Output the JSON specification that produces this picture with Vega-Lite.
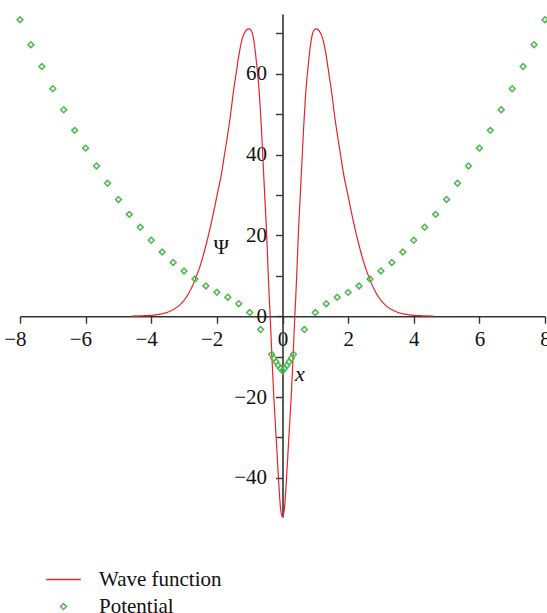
{
  "$schema": "https://vega.github.io/schema/vega-lite/v6.json",
  "autosize": {"type": "none"},
  "width": 525,
  "height": 503,
  "padding": {"left": 20, "top": 14, "right": 2, "bottom": 96},
  "background": "white",
  "config": {
    "view": {"stroke": null},
    "axis": {
      "grid": false,
      "zindex": 1,
      "domainColor": "#333333",
      "domainWidth": 1.6,
      "tickColor": "#333333",
      "tickWidth": 1.4,
      "tickSize": 7,
      "labelFont": "Liberation Serif",
      "labelFontSize": 21,
      "labelColor": "#111111",
      "labelOverlap": false,
      "labelFlush": false,
      "title": null
    },
    "legend": {
      "orient": "none",
      "legendX": 25,
      "legendY": 547,
      "padding": 0,
      "labelFont": "Liberation Serif",
      "labelFontSize": 21,
      "labelColor": "#111111",
      "labelOffset": 17,
      "rowPadding": 5,
      "symbolStrokeWidth": 1.5
    }
  },
  "datasets": {
    "wave": [
      {"x": -4.6, "psi": 0}, {"x": -4.2, "psi": 0.12}, {"x": -3.87, "psi": 0.33}, {"x": -3.5, "psi": 0.97}, {"x": -3.16, "psi": 2.55},
      {"x": -3.0, "psi": 3.9}, {"x": -2.86, "psi": 5.6}, {"x": -2.65, "psi": 9.3}, {"x": -2.5, "psi": 12.7},
      {"x": -2.35, "psi": 17.0}, {"x": -2.2, "psi": 22.0}, {"x": -2.0, "psi": 29.7}, {"x": -1.84, "psi": 36.2},
      {"x": -1.77, "psi": 39.9}, {"x": -1.68, "psi": 44.5}, {"x": -1.585, "psi": 49.8}, {"x": -1.5, "psi": 55.3},
      {"x": -1.4, "psi": 60.8}, {"x": -1.33, "psi": 64.6}, {"x": -1.23, "psi": 68.6}, {"x": -1.12, "psi": 70.6},
      {"x": -1.03, "psi": 71.1}, {"x": -0.96, "psi": 70.8}, {"x": -0.89, "psi": 69.0}, {"x": -0.79, "psi": 62.6},
      {"x": -0.7, "psi": 54.4}, {"x": -0.64, "psi": 46.1}, {"x": -0.59, "psi": 37.8}, {"x": -0.54, "psi": 29.6},
      {"x": -0.488, "psi": 21.3}, {"x": -0.448, "psi": 13.1}, {"x": -0.405, "psi": 4.8}, {"x": -0.375, "psi": 0},
      {"x": -0.326, "psi": -9.5}, {"x": -0.265, "psi": -20.0}, {"x": -0.19, "psi": -30.5}, {"x": -0.12, "psi": -40.5},
      {"x": -0.06, "psi": -47.5}, {"x": 0, "psi": -49.7},
      {"x": 0.06, "psi": -47.5}, {"x": 0.12, "psi": -40.5}, {"x": 0.19, "psi": -30.5}, {"x": 0.265, "psi": -20.0},
      {"x": 0.326, "psi": -9.5}, {"x": 0.375, "psi": 0}, {"x": 0.405, "psi": 4.8}, {"x": 0.448, "psi": 13.1},
      {"x": 0.488, "psi": 21.3}, {"x": 0.54, "psi": 29.6}, {"x": 0.59, "psi": 37.8}, {"x": 0.64, "psi": 46.1},
      {"x": 0.7, "psi": 54.4}, {"x": 0.79, "psi": 62.6}, {"x": 0.89, "psi": 69.0}, {"x": 0.96, "psi": 70.8},
      {"x": 1.03, "psi": 71.1}, {"x": 1.12, "psi": 70.6}, {"x": 1.23, "psi": 68.6}, {"x": 1.33, "psi": 64.6},
      {"x": 1.4, "psi": 60.8}, {"x": 1.5, "psi": 55.3}, {"x": 1.585, "psi": 49.8}, {"x": 1.68, "psi": 44.5},
      {"x": 1.77, "psi": 39.9}, {"x": 1.84, "psi": 36.2}, {"x": 2.0, "psi": 29.7}, {"x": 2.2, "psi": 22.0},
      {"x": 2.35, "psi": 17.0}, {"x": 2.5, "psi": 12.7}, {"x": 2.65, "psi": 9.3}, {"x": 2.86, "psi": 5.6},
      {"x": 3.0, "psi": 3.9}, {"x": 3.16, "psi": 2.55}, {"x": 3.5, "psi": 0.97}, {"x": 3.87, "psi": 0.33},
      {"x": 4.2, "psi": 0.12}, {"x": 4.6, "psi": 0}
    ],
    "potential": [
      {"x": -8, "v": 73.4}, {"x": -7.667, "v": 67.2}, {"x": -7.333, "v": 61.8}, {"x": -7, "v": 56.3},
      {"x": -6.667, "v": 51.1}, {"x": -6.333, "v": 46.0}, {"x": -6, "v": 41.6}, {"x": -5.667, "v": 37.2},
      {"x": -5.333, "v": 32.9}, {"x": -5, "v": 28.9}, {"x": -4.667, "v": 25.2}, {"x": -4.333, "v": 22.0},
      {"x": -4, "v": 18.8}, {"x": -3.667, "v": 15.9}, {"x": -3.333, "v": 13.3}, {"x": -3, "v": 11.2},
      {"x": -2.667, "v": 9.2}, {"x": -2.333, "v": 7.5}, {"x": -2, "v": 5.9}, {"x": -1.667, "v": 4.7},
      {"x": -1.333, "v": 3.1}, {"x": -1, "v": 0.9}, {"x": -0.667, "v": -3.3}, {"x": -0.333, "v": -9.4},
      {"x": -0.27, "v": -10.4}, {"x": -0.2, "v": -11.3}, {"x": -0.13, "v": -12.2}, {"x": -0.065, "v": -12.9},
      {"x": 0, "v": -13.5},
      {"x": 0.065, "v": -12.9}, {"x": 0.13, "v": -12.2}, {"x": 0.2, "v": -11.3}, {"x": 0.27, "v": -10.4},
      {"x": 0.333, "v": -9.4},
      {"x": 0.667, "v": -3.3}, {"x": 1, "v": 0.9}, {"x": 1.333, "v": 3.1}, {"x": 1.667, "v": 4.7},
      {"x": 2, "v": 5.9}, {"x": 2.333, "v": 7.5}, {"x": 2.667, "v": 9.2}, {"x": 3, "v": 11.2},
      {"x": 3.333, "v": 13.3}, {"x": 3.667, "v": 15.9}, {"x": 4, "v": 18.8}, {"x": 4.333, "v": 22.0},
      {"x": 4.667, "v": 25.2}, {"x": 5, "v": 28.9}, {"x": 5.333, "v": 32.9}, {"x": 5.667, "v": 37.2},
      {"x": 6, "v": 41.6}, {"x": 6.333, "v": 46.0}, {"x": 6.667, "v": 51.1}, {"x": 7, "v": 56.3},
      {"x": 7.333, "v": 61.8}, {"x": 7.667, "v": 67.2}, {"x": 8, "v": 73.4}
    ],
    "labels": [
      {"x": -1.87, "y": 16.9, "t": "Ψ"}
    ],
    "xlabel": [
      {"x": 0.53, "y": -14.3, "t": "x"}
    ]
  },
  "layer": [
    {
      "data": {"name": "wave"},
      "transform": [{"calculate": "'Wave function'", "as": "series"}],
      "mark": {"type": "line", "interpolate": "monotone", "strokeWidth": 1.2},
      "encoding": {
        "x": {
          "field": "x", "type": "quantitative",
          "scale": {"domain": [-8, 8], "nice": false, "zero": false},
          "axis": {
            "orient": "bottom",
            "offset": -200.8,
            "values": [-8, -7, -6, -5, -4, -3, -2, -1, 0, 1, 2, 3, 4, 5, 6, 7, 8],
            "labelExpr": "datum.value % 2 === 0 ? datum.label : ''",
            "labelPadding": 5,
            "labelAlign": {"condition": {"test": "datum.value < 0", "value": "right"}, "value": "center"},
            "labelOffset": {"condition": {"test": "datum.value < 0", "value": 6}, "value": 0}
          }
        },
        "y": {
          "field": "psi", "type": "quantitative",
          "scale": {"domain": [-49.7, 74.8], "nice": false, "zero": false},
          "axis": {
            "orient": "left",
            "offset": -262.5,
            "values": [-40, -30, -20, -10, 0, 10, 20, 30, 40, 50, 60, 70],
            "labelExpr": "datum.value % 20 === 0 ? datum.label : ''",
            "labelPadding": 9
          }
        },
        "order": {"field": "x", "type": "quantitative"},
        "color": {
          "field": "series", "type": "nominal",
          "scale": {"domain": ["Wave function", "Potential"], "range": ["#e8232b", "#4cb84c"]},
          "legend": {"title": null}
        }
      }
    },
    {
      "data": {"name": "potential"},
      "transform": [{"calculate": "'Potential'", "as": "series"}],
      "mark": {"type": "point", "filled": false, "strokeWidth": 1.5, "opacity": 1},
      "encoding": {
        "x": {"field": "x", "type": "quantitative"},
        "y": {"field": "v", "type": "quantitative"},
        "color": {"field": "series", "type": "nominal", "legend": {"title": null}},
        "shape": {
          "field": "series", "type": "nominal",
          "scale": {"domain": ["Wave function", "Potential"], "range": ["stroke", "diamond"]},
          "legend": {"title": null}
        },
        "size": {
          "field": "series", "type": "nominal",
          "scale": {"domain": ["Wave function", "Potential"], "range": [1200, 34]},
          "legend": {"title": null}
        }
      }
    },
    {
      "data": {"name": "labels"},
      "mark": {"type": "text", "font": "Liberation Serif", "fontSize": 21, "color": "#111111"},
      "encoding": {
        "x": {"field": "x", "type": "quantitative"},
        "y": {"field": "y", "type": "quantitative"},
        "text": {"field": "t"}
      }
    },
    {
      "data": {"name": "xlabel"},
      "mark": {"type": "text", "font": "Liberation Serif", "fontSize": 22, "fontStyle": "italic", "color": "#111111"},
      "encoding": {
        "x": {"field": "x", "type": "quantitative"},
        "y": {"field": "y", "type": "quantitative"},
        "text": {"field": "t"}
      }
    }
  ]
}
